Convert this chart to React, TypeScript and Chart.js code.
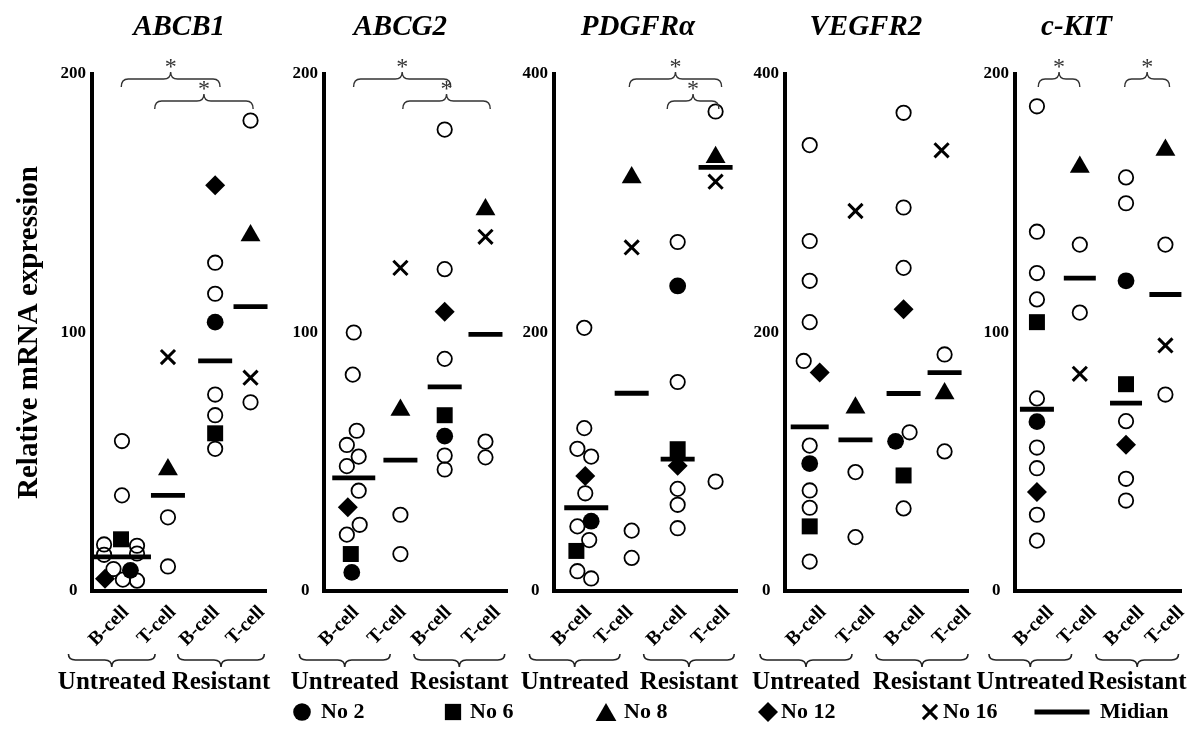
import React, { useEffect, useRef } from 'react';
import { Chart, registerables } from 'chart.js';

Chart.register(...registerables);

const FONT = "'Liberation Serif', 'Times New Roman', Times, serif";
Chart.defaults.font.family = FONT;
Chart.defaults.color = '#000';

// ---------------- data ----------------
const GENES = ['ABCB1', 'ABCG2', 'PDGFRα', 'VEGFR2', 'c-KIT'];
const Y_MAX = [200, 200, 400, 400, 200];
const CELL_LABELS = ['B-cell', 'T-cell', 'B-cell', 'T-cell'];
const GROUP_LABELS = ['Untreated', 'Resistant'];
const Y_TITLE = 'Relative mRNA expression';
const LEGEND_LABELS = ['No 2', 'No 6', 'No 8', 'No 12', 'No 16', 'Midian'];

// open circles: [untreated B-cell, untreated T-cell, resistant B-cell, resistant T-cell]
const abcb1Open = [[58, 37, 18, 17.5, 14, 14.5, 8.5, 4.4, 4], [28.5, 9.5], [127, 115, 76, 68, 55], [182, 73]];
const abcg2Open = [[100, 83.7, 62, 56.5, 52, 48.3, 38.8, 25.6, 21.8], [29.5, 14.3], [178.5, 124.5, 89.8, 52.4, 47], [57.8, 51.7]];
const pdgfraOpen = [[203.6, 126, 110, 104, 75.6, 50, 39.4, 15.3, 9.7], [46.7, 25.6], [270, 161.7, 79, 66.7, 48.6], [371, 84.7]];
const vegfr2Open = [[345, 270.8, 240, 208, 178, 112.5, 77.8, 64.4, 22.8], [92, 41.7], [370, 296.7, 250, 122.8, 63.9], [183, 108]];
const ckitOpen = [[187.5, 139, 123, 112.8, 74.5, 55.5, 47.5, 29.5, 19.5], [134, 107.7], [160, 150, 65.7, 43.4, 35], [134, 76]];

// B-cell patients (No 2, No 6, No 12): [untreated B-cell, resistant B-cell]
const abcb1No2 = [8, 104];
const abcb1No6 = [20, 61];
const abcb1No12 = [4.7, 157];
const abcg2No2 = [7.2, 59.9];
const abcg2No6 = [14.3, 68];
const abcg2No12 = [32.4, 108];
const pdgfraNo2 = [54, 236];
const pdgfraNo6 = [31, 109.7];
const pdgfraNo12 = [89, 97];
const vegfr2No2 = [98.6, 115.8];
const vegfr2No6 = [50, 89.4];
const vegfr2No12 = [169, 218];
const ckitNo2 = [65.5, 120];
const ckitNo6 = [104, 80];
const ckitNo12 = [38.3, 56.6];

// T-cell patients (No 8, No 16): [untreated T-cell, resistant T-cell]
const abcb1No8 = [47, 137.5];
const abcb1No16 = [90.5, 82.5];
const abcg2No8 = [70, 147.6];
const abcg2No16 = [125, 137];
const pdgfraNo8 = [320, 335.6];
const pdgfraNo16 = [265.8, 316.7];
const vegfr2No8 = [141.7, 152.8];
const vegfr2No16 = [294, 341];
const ckitNo8 = [164, 170.6];
const ckitNo16 = [84, 95];

// medians: [untreated B, untreated T, resistant B, resistant T]
const abcb1Median = [13.2, 37, 89, 110];
const abcg2Median = [43.8, 50.6, 79, 99.3];
const pdgfraMedian = [64.4, 153, 102, 327.8];
const vegfr2Median = [127, 117, 152.8, 169];
const ckitMedian = [70.3, 121, 72.7, 114.7];

// side-by-side offsets of overlapping markers within a column (px)
const abcb1OpenJit = [[0, 0, -19, 16, -19, 16, -9, 1, 16], [], [], []];
const abcg2OpenJit = [[0, -1, 3, -7, 5, -7, 5, 6, -7], [], [], []];
const pdgfraOpenJit = [[-2, -2, -9, 5, -1, -9, 3, -9, 5], [], [], []];
const vegfr2OpenJit = [[0, 0, 0, 0, -6, 0, 0, 0, 0], [], [0, 0, 0, 6, 0], []];
const ckitOpenJit = [[], [], [], []];
const abcb1PatJit = { no2: [9, 0], no6: [-1, 0], no12: [-18, 0], no8: [0, 0], no16: [0, 0] };
const abcg2PatJit = { no2: [-2, 0], no6: [-3, 0], no12: [-6, 0], no8: [0, 0], no16: [0, 0] };
const pdgfraPatJit = { no2: [5, 0], no6: [-10, 0], no12: [-1, 0], no8: [0, 0], no16: [0, 0] };
const vegfr2PatJit = { no2: [0, -8], no6: [0, 0], no12: [10, 0], no8: [0, 0], no16: [0, -3] };
const ckitPatJit = { no2: [0, 0], no6: [0, 0], no12: [0, 0], no8: [0, 0], no16: [0, 0] };

const PANELS = [
  { open: abcb1Open, no2: abcb1No2, no6: abcb1No6, no12: abcb1No12, no8: abcb1No8, no16: abcb1No16, median: abcb1Median, openJit: abcb1OpenJit, patJit: abcb1PatJit },
  { open: abcg2Open, no2: abcg2No2, no6: abcg2No6, no12: abcg2No12, no8: abcg2No8, no16: abcg2No16, median: abcg2Median, openJit: abcg2OpenJit, patJit: abcg2PatJit },
  { open: pdgfraOpen, no2: pdgfraNo2, no6: pdgfraNo6, no12: pdgfraNo12, no8: pdgfraNo8, no16: pdgfraNo16, median: pdgfraMedian, openJit: pdgfraOpenJit, patJit: pdgfraPatJit },
  { open: vegfr2Open, no2: vegfr2No2, no6: vegfr2No6, no12: vegfr2No12, no8: vegfr2No8, no16: vegfr2No16, median: vegfr2Median, openJit: vegfr2OpenJit, patJit: vegfr2PatJit },
  { open: ckitOpen, no2: ckitNo2, no6: ckitNo6, no12: ckitNo12, no8: ckitNo8, no16: ckitNo16, median: ckitMedian, openJit: ckitOpenJit, patJit: ckitPatJit },
];

// ---------------- layout / style ----------------
const CANVAS_H = 700;
const PLOT_TOP = 74;
const X_AXIS_H = 109;
const LAYOUT = [
  { left: 8, yW: 84, w: 185, padR: 23 },
  { left: 284, yW: 40, w: 186, padR: 24 },
  { left: 514, yW: 40, w: 186, padR: 24 },
  { left: 745, yW: 40, w: 183, padR: 26 },
  { left: 975, yW: 40, w: 185, padR: 3 },
];
const COLS = [
  [0.172, 0.436, 0.707, 0.91],
  [0.162, 0.416, 0.657, 0.879],
  [0.176, 0.424, 0.675, 0.882],
  [0.135, 0.385, 0.648, 0.872],
  [0.132, 0.39, 0.668, 0.905],
];
const TICK_POS = [
  [0.195, 0.465, 0.715, 0.975],
  [0.175, 0.432, 0.678, 0.945],
  [0.19, 0.416, 0.708, 0.945],
  [0.209, 0.476, 0.748, 1.0],
  [0.215, 0.472, 0.76, 1.0],
];
const MEDIAN_HALF = [
  [29, 17, 17, 17],
  [21.5, 17, 17, 17],
  [22, 17, 17, 17],
  [19, 17, 17, 17],
  [17, 16, 16, 16],
];
const TITLE_X = [0.5, 0.415, 0.458, 0.442, 0.37];
const BRACKETS = [
  [[0.168, 0.735, 0], [0.36, 0.925, 1]],
  [[0.161, 0.69, 0], [0.429, 0.905, 1]],
  [[0.411, 0.915, 0], [0.618, 0.9, 1]],
  [],
  [[0.14, 0.39, 0], [0.66, 0.93, 0]],
];
// group brace centres, px from the y axis
const GROUP_CENTERS = [
  [21, 137],
  [21, 137],
  [21, 137],
  [21, 137],
  [17, 136],
];
const BRACE_HALF = 46;

const MARK = {
  open: { pointStyle: 'circle', pointRadius: 7.2, pointBorderWidth: 1.8, pointBackgroundColor: 'rgba(0,0,0,0)', pointBorderColor: '#000' },
  no2: { pointStyle: 'circle', pointRadius: 8.4, pointBorderWidth: 0, pointBackgroundColor: '#000', pointBorderColor: '#000' },
  no6: { pointStyle: 'rect', pointRadius: 11.3, pointBorderWidth: 0, pointBackgroundColor: '#000', pointBorderColor: '#000' },
  no8: { pointStyle: 'triangle', pointRadius: 11.5, pointBorderWidth: 0, pointBackgroundColor: '#000', pointBorderColor: '#000' },
  no12: { pointStyle: 'rectRot', pointRadius: 10, pointBorderWidth: 0, pointBackgroundColor: '#000', pointBorderColor: '#000' },
  no16: { pointStyle: 'crossRot', pointRadius: 10, pointBorderWidth: 3, pointBackgroundColor: '#000', pointBorderColor: '#000' },
  median: { pointStyle: 'line', pointBorderWidth: 4.8, pointBackgroundColor: '#000', pointBorderColor: '#000' },
};

function brace(ctx: CanvasRenderingContext2D, x1: number, x2: number, y: number, dir: number, e: number, t: number) {
  const xm = (x1 + x2) / 2;
  const r = Math.min(7, (x2 - x1) / 6);
  ctx.beginPath();
  ctx.moveTo(x1, y - dir * e);
  ctx.quadraticCurveTo(x1, y, x1 + r, y);
  ctx.lineTo(xm - r, y);
  ctx.quadraticCurveTo(xm, y, xm, y + dir * t);
  ctx.quadraticCurveTo(xm, y, xm + r, y);
  ctx.lineTo(x2 - r, y);
  ctx.quadraticCurveTo(x2, y, x2, y - dir * e);
  ctx.stroke();
}

function makeConfig(li: number): any {
  const p = PANELS[li];
  const L = LAYOUT[li];
  const cols = COLS[li];
  const fx = (g: number, dx = 0) => cols[g] + dx / L.w;
  const open = p.open.flatMap((vals, g) => vals.map((v, i) => ({ x: fx(g, (p.openJit[g] && p.openJit[g][i]) || 0), y: v })));
  const bPat = (vals: number[], jit: number[]) => [{ x: fx(0, jit[0]), y: vals[0] }, { x: fx(2, jit[1]), y: vals[1] }];
  const tPat = (vals: number[], jit: number[]) => [{ x: fx(1, jit[0]), y: vals[0] }, { x: fx(3, jit[1]), y: vals[1] }];
  const med = p.median.map((v, g) => ({ x: fx(g), y: v }));

  const datasets = [
    { label: LEGEND_LABELS[5], data: med, ...MARK.median, pointRadius: MEDIAN_HALF[li] },
    { label: LEGEND_LABELS[0], data: bPat(p.no2, p.patJit.no2), ...MARK.no2 },
    { label: LEGEND_LABELS[1], data: bPat(p.no6, p.patJit.no6), ...MARK.no6 },
    { label: LEGEND_LABELS[2], data: tPat(p.no8, p.patJit.no8), ...MARK.no8 },
    { label: LEGEND_LABELS[3], data: bPat(p.no12, p.patJit.no12), ...MARK.no12 },
    { label: LEGEND_LABELS[4], data: tPat(p.no16, p.patJit.no16), ...MARK.no16 },
    { label: 'Individual', data: open, ...MARK.open },
  ].map((d: any) => ({ ...d, clip: false }));

  const decor = {
    id: 'decor' + li,
    afterDraw(chart: any) {
      const ctx: CanvasRenderingContext2D = chart.ctx;
      const xs = chart.scales.x;
      const ca = chart.chartArea;
      const pxFromAxis = (d: number) => xs.getPixelForValue(d / L.w);
      ctx.save();
      // title
      ctx.fillStyle = '#000';
      ctx.textAlign = 'center';
      ctx.textBaseline = 'middle';
      ctx.font = `italic bold 29px ${FONT}`;
      ctx.fillText(GENES[li], xs.getPixelForValue(TITLE_X[li]), 28);
      // significance brackets
      ctx.strokeStyle = '#333';
      ctx.lineWidth = 1.4;
      for (const [a, b, lvl] of BRACKETS[li]) {
        const y = ca.top + 5 + lvl * 22;
        const x1 = xs.getPixelForValue(a);
        const x2 = xs.getPixelForValue(b);
        brace(ctx, x1, x2, y, -1, 8, 7);
        ctx.fillStyle = '#333';
        ctx.font = `24px ${FONT}`;
        ctx.textBaseline = 'alphabetic';
        ctx.fillText('*', (x1 + x2) / 2, y - 5);
      }
      // group braces & labels
      ctx.strokeStyle = '#222';
      ctx.lineWidth = 1.6;
      ctx.fillStyle = '#000';
      ctx.font = `bold 25px ${FONT}`;
      ctx.textBaseline = 'middle';
      GROUP_CENTERS[li].forEach((c, gi) => {
        const x1 = pxFromAxis(c - BRACE_HALF);
        const x2 = pxFromAxis(c + BRACE_HALF);
        brace(ctx, x1, x2, ca.bottom + 69, 1, 6, 7);
        ctx.fillText(GROUP_LABELS[gi], pxFromAxis(c), ca.bottom + 92);
      });
      ctx.restore();
    },
  };

  return {
    type: 'scatter',
    data: { datasets },
    plugins: [decor],
    options: {
      responsive: false,
      animation: false,
      events: [],
      layout: { padding: { top: PLOT_TOP, right: L.padR, left: 0, bottom: 0 } },
      plugins: { legend: { display: false }, tooltip: { enabled: false }, title: { display: false } },
      scales: {
        x: {
          type: 'linear',
          min: 0,
          max: 1,
          grid: { display: false, drawTicks: false },
          border: { display: true, width: 4, color: '#000' },
          ticks: {
            autoSkip: false,
            minRotation: 45,
            maxRotation: 45,
            padding: 10,
            color: '#000',
            font: { family: FONT, size: 19.5, weight: 'bold' },
            callback: (_v: any, i: number) => CELL_LABELS[i],
          },
          afterBuildTicks: (s: any) => {
            s.ticks = TICK_POS[li].map((v) => ({ value: v }));
          },
          afterFit: (s: any) => {
            s.height = X_AXIS_H;
            s.paddingLeft = 0;
            s.paddingRight = 0;
          },
        },
        y: {
          type: 'linear',
          min: 0,
          max: Y_MAX[li],
          grid: { display: false, drawTicks: false },
          border: { display: true, width: 4, color: '#000' },
          ticks: {
            stepSize: Y_MAX[li] / 2,
            crossAlign: 'center',
            padding: 6,
            color: '#000',
            font: { family: FONT, size: 17, weight: 'bold' },
          },
          title: li === 0
            ? { display: true, text: Y_TITLE, color: '#000', font: { family: FONT, size: 29, weight: 'bold' }, padding: { top: 4, bottom: 4 } }
            : { display: false },
          afterFit: (s: any) => {
            s.width = L.yW;
            s.paddingTop = 0;
            s.paddingBottom = 0;
          },
        },
      },
    },
  };
}

// ---------------- legend ----------------
const LEGEND_TOP = 690;
const LEGEND_H = 52;
const LEGEND_Y = 22;
const LEGEND_ITEMS = [
  { style: 'circle', x: 302, r: 8.8, tx: 321 },
  { style: 'rect', x: 453, r: 11.5, tx: 470 },
  { style: 'triangle', x: 606, r: 12, tx: 624 },
  { style: 'rectRot', x: 768, r: 10, tx: 781 },
  { style: 'crossRot', x: 930, r: 10, tx: 943 },
  { style: 'line', x: 1062, r: 27.5, tx: 1100 },
];

function drawShape(ctx: CanvasRenderingContext2D, style: string, x: number, y: number, r: number) {
  ctx.beginPath();
  if (style === 'circle') {
    ctx.arc(x, y, r, 0, Math.PI * 2);
    ctx.fill();
  } else if (style === 'rect') {
    const s = r * Math.SQRT1_2;
    ctx.fillRect(x - s, y - s, 2 * s, 2 * s);
  } else if (style === 'triangle') {
    const yc = y + r * 0.25;
    ctx.moveTo(x, yc - r);
    ctx.lineTo(x + r * Math.sin((2 * Math.PI) / 3), yc - r * Math.cos((2 * Math.PI) / 3));
    ctx.lineTo(x + r * Math.sin((4 * Math.PI) / 3), yc - r * Math.cos((4 * Math.PI) / 3));
    ctx.closePath();
    ctx.fill();
  } else if (style === 'rectRot') {
    ctx.moveTo(x - r, y);
    ctx.lineTo(x, y - r);
    ctx.lineTo(x + r, y);
    ctx.lineTo(x, y + r);
    ctx.closePath();
    ctx.fill();
  } else if (style === 'crossRot') {
    const o = r * Math.SQRT1_2;
    ctx.lineWidth = 3;
    ctx.moveTo(x - o, y - o);
    ctx.lineTo(x + o, y + o);
    ctx.moveTo(x + o, y - o);
    ctx.lineTo(x - o, y + o);
    ctx.stroke();
  } else if (style === 'line') {
    ctx.lineWidth = 4.8;
    ctx.moveTo(x - r, y);
    ctx.lineTo(x + r, y);
    ctx.stroke();
  }
}

function legendConfig(): any {
  const legendPlugin = {
    id: 'customLegend',
    afterDraw(chart: any) {
      const ctx: CanvasRenderingContext2D = chart.ctx;
      ctx.save();
      ctx.fillStyle = '#000';
      ctx.strokeStyle = '#000';
      ctx.font = `bold 22px ${FONT}`;
      ctx.textBaseline = 'middle';
      ctx.textAlign = 'left';
      LEGEND_ITEMS.forEach((it, i) => {
        drawShape(ctx, it.style, it.x, LEGEND_Y, it.r);
        ctx.fillText(LEGEND_LABELS[i], it.tx, LEGEND_Y);
      });
      ctx.restore();
    },
  };
  return {
    type: 'scatter',
    data: { datasets: [] },
    plugins: [legendPlugin],
    options: {
      responsive: false,
      animation: false,
      events: [],
      plugins: { legend: { display: false }, tooltip: { enabled: false } },
      scales: { x: { display: false }, y: { display: false } },
    },
  };
}

function Panel({ idx }: { idx: number }) {
  const ref = useRef<HTMLCanvasElement>(null);
  useEffect(() => {
    const chart = new Chart(ref.current as HTMLCanvasElement, makeConfig(idx));
    return () => chart.destroy();
  }, [idx]);
  const L = LAYOUT[idx];
  const w = L.yW + L.w + L.padR;
  return <canvas ref={ref} width={w} height={CANVAS_H} style={{ position: 'absolute', left: L.left, top: 0, width: w, height: CANVAS_H }} />;
}

function Legend() {
  const ref = useRef<HTMLCanvasElement>(null);
  useEffect(() => {
    const chart = new Chart(ref.current as HTMLCanvasElement, legendConfig());
    return () => chart.destroy();
  }, []);
  return <canvas ref={ref} width={1203} height={LEGEND_H} style={{ position: 'absolute', left: 0, top: LEGEND_TOP, width: 1203, height: LEGEND_H }} />;
}

export default function App() {
  return (
    <div style={{ position: 'absolute', left: 0, top: 0, width: 1203, height: 742, background: '#fff', overflow: 'hidden' }}>
      {GENES.map((_, i) => (
        <Panel key={i} idx={i} />
      ))}
      <Legend />
    </div>
  );
}
